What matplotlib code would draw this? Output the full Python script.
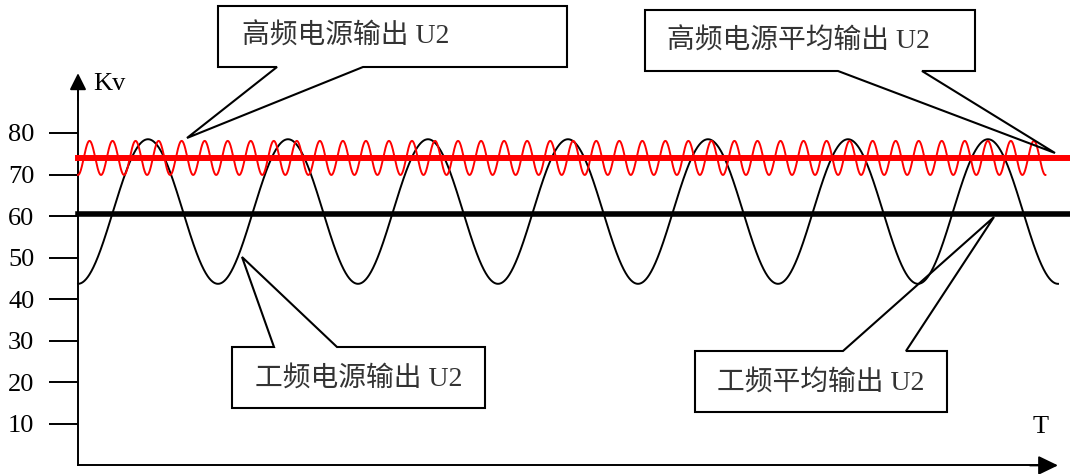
import numpy as np
import matplotlib
matplotlib.use('Agg')
import matplotlib.pyplot as plt
import matplotlib.patches as patches
from matplotlib.transforms import Affine2D

# y axis ticks (kV)
y_ticks = [10, 20, 30, 40, 50, 60, 70, 80]

# power-frequency output U2 (black sine) and its average
power_mean = 61.1
power_amp = 17.4
power_cycles = 7
power_avg = 60.5

# high-frequency output U2 (red sine) and its average
hf_mean = 74.0
hf_amp = 4.1
hf_cycles = 42
hf_span = 6.91      # in power periods
hf_avg = 74.0

labels = ["高频电源输出 U2", "高频电源平均输出 U2", "工频电源输出 U2", "工频平均输出 U2"]

W, H = 1070, 474
fig = plt.figure(figsize=(W / 100, H / 100), dpi=100)
ax = fig.add_axes([0, 0, 1, 1])

# axis limits chosen so x=0 sits at the y axis, 1 unit = one power period
px0, px_per = 78, 140.0
py0, py_per = 465.4, 4.155
ax.set_xlim(-px0 / px_per, (W - px0) / px_per)
ax.set_ylim((py0 - H) / py_per, py0 / py_per)

serif = ['Liberation Serif', 'DejaVu Serif']
cjk = ['Liberation Serif', 'Noto Sans CJK SC']

# curves
t = np.linspace(0, power_cycles, 3000)
ax.plot(t, power_mean - power_amp * np.cos(2 * np.pi * t), color='black', lw=1.4, zorder=3)
th = np.linspace(0, hf_span, 6000)
ax.plot(th, hf_mean - hf_amp * np.cos(2 * np.pi * hf_cycles * th / hf_span), color='red', lw=1.4, zorder=3)

xr = ax.get_xlim()[1]
ax.plot([0, xr], [power_avg, power_avg], color='black', lw=4.0, zorder=4, clip_on=False)
ax.plot([0, xr], [hf_avg, hf_avg], color='red', lw=4.3, zorder=4, clip_on=False)

# axes
for s in ['top', 'right']:
    ax.spines[s].set_visible(False)
ax.spines['left'].set_position(('data', 0))
ax.spines['bottom'].set_position(('data', 0))
ax.spines['left'].set_bounds(0, 91)
ax.spines['bottom'].set_bounds(0, 6.9)
ax.spines['left'].set_linewidth(1.4)
ax.spines['bottom'].set_linewidth(1.4)
ax.set_xticks([])
ax.set_yticks(y_ticks)
ax.set_yticklabels([str(v) for v in y_ticks], family=serif, fontsize=19)
ax.tick_params(axis='y', direction='out', length=21, width=1.4, pad=10.5)

ax.annotate('', xy=(0, 94.4), xytext=(0, 88),
            arrowprops=dict(arrowstyle='-|>,head_length=10,head_width=5', mutation_scale=1,
                            color='black', lw=1.4, shrinkA=0, shrinkB=0))
ax.annotate('', xy=(7.0, 0), xytext=(6.8, 0),
            arrowprops=dict(arrowstyle='-|>,head_length=12,head_width=5.8', mutation_scale=1,
                            color='black', lw=1.4, shrinkA=0, shrinkB=0), annotation_clip=False)

# pixel transform for the callouts
pix = Affine2D().scale(1 / W, -1 / H).translate(0, 1) + fig.transFigure

ax.text(93, 90, "Kv", transform=pix, family=serif, fontsize=19, va='baseline', ha='left')
ax.text(1033, 433, "T", transform=pix, family=serif, fontsize=19, va='baseline', ha='left')

callouts = [
    ([(218, 6), (567, 6), (567, 67), (363, 67), (187, 138), (277, 67), (218, 67)],
     (218, 6, 567, 67), (242, 37)),
    ([(645, 10), (975, 10), (975, 71), (922, 71), (1055, 153), (838, 71), (645, 71)],
     (645, 10, 975, 71), (667, 42)),
    ([(232, 347), (274, 347), (242, 257), (337, 347), (485, 347), (485, 408), (232, 408)],
     (232, 347, 485, 408), (255, 379)),
    ([(695, 351), (843, 351), (994, 217), (906, 351), (947, 351), (947, 412), (695, 412)],
     (695, 351, 947, 412), (717, 383)),
]
for (outline, box, tpos), lab in zip(callouts, labels):
    x0, y0, x1, y1 = box
    ax.add_patch(patches.Polygon([(x0, y0), (x1, y0), (x1, y1), (x0, y1)], closed=True,
                                 transform=pix, facecolor='white', edgecolor='none', zorder=5))
    ax.add_patch(patches.Polygon(outline, closed=True, transform=pix, fill=False,
                                 edgecolor='black', lw=1.5, zorder=6, joinstyle='miter'))
    ax.text(tpos[0], tpos[1], lab, transform=pix, family=cjk, fontsize=20,
            color='#333333', va='center', ha='left', zorder=7)

fig.savefig('out.png', dpi=100)
